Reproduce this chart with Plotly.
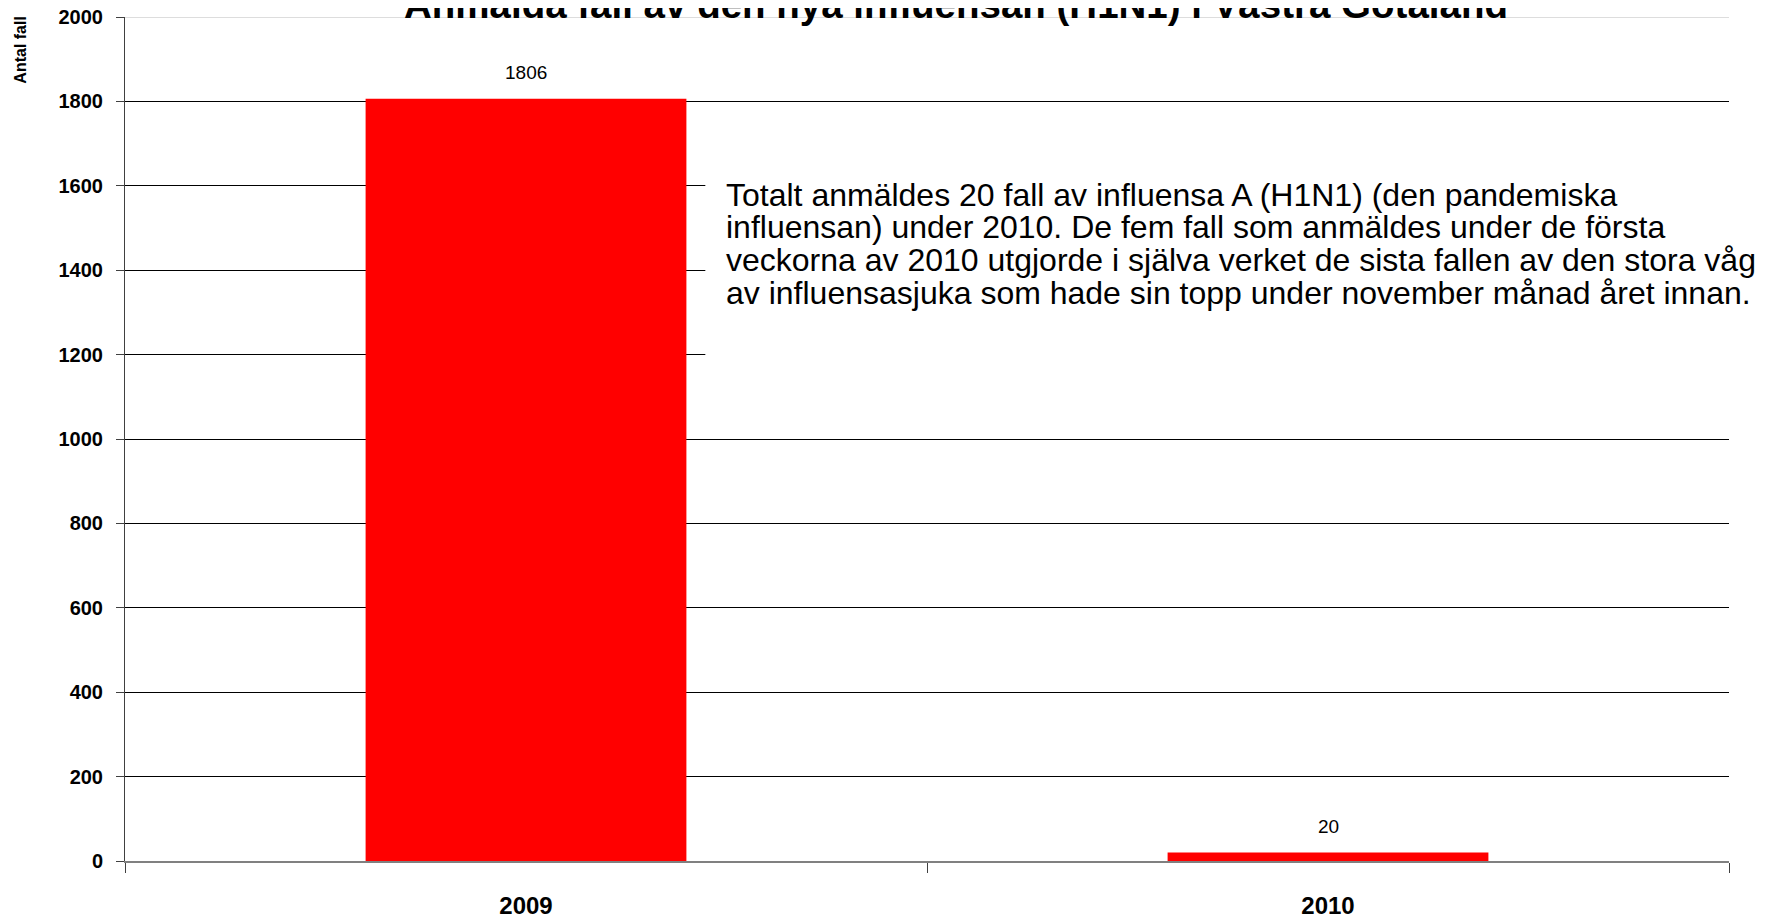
import plotly.graph_objects as go

# ---- data ----
categories = ["2009", "2010"]
cases = [1806, 20]
y_ticks = [0, 200, 400, 600, 800, 1000, 1200, 1400, 1600, 1800, 2000]
title_text = "Anmälda fall av den nya influensan (H1N1) i Västra Götaland"
y_title = "Antal fall"
note_lines = [
    "Totalt anmäldes 20 fall av influensa A (H1N1) (den pandemiska",
    "influensan) under 2010. De fem fall som anmäldes under de första",
    "veckorna av 2010 utgjorde i själva verket de sista fallen av den stora våg",
    "av influensasjuka som hade sin topp under november månad året innan.",
]

FONT = "Arial, Liberation Sans, sans-serif"

fig = go.Figure()
fig.add_trace(go.Bar(
    x=categories, y=cases, width=0.4,
    marker=dict(color="#FF0000", line=dict(width=0)),
    hoverinfo="x+y", showlegend=False,
))

# data labels (category index used as x position)
for i, v in enumerate(cases):
    fig.add_annotation(x=i, y=v, xref="x", yref="y", text=str(v), showarrow=False,
                       yanchor="bottom", yshift=14,
                       font=dict(family=FONT, size=19, color="black"))

# title
fig.add_annotation(xref="paper", yref="paper", x=0.518, y=1.015, xanchor="center",
                   yanchor="middle", text=title_text, showarrow=False,
                   font=dict(family=FONT, size=38.5, color="black", weight="bold"))

# y axis title
fig.add_annotation(xref="paper", yref="paper", x=-0.065, y=0.961, xanchor="center",
                   yanchor="middle", text=y_title, textangle=-90,
                   showarrow=False, font=dict(family=FONT, size=16, color="black", weight="bold"))

# white box behind the note (hides the gridlines there)
fig.add_shape(type="rect", xref="paper", yref="paper", x0=0.3618, x1=1.03,
              y0=0.575, y1=0.815, fillcolor="white", line=dict(width=0), layer="above")

# note, one annotation per line
line_centers_px = [195, 227.5, 260, 292.5]
plot_top, plot_bottom = 17, 861
for txt, yc in zip(note_lines, line_centers_px):
    fig.add_annotation(xref="paper", yref="paper", x=0.3736,
                       y=(plot_bottom - yc) / (plot_bottom - plot_top),
                       xanchor="left", yanchor="middle", align="left", text=txt,
                       showarrow=False, font=dict(family=FONT, size=32, color="black"))

# top border light gray
fig.add_shape(type="line", xref="paper", yref="y", x0=0, x1=1, y0=y_ticks[-1], y1=y_ticks[-1],
              line=dict(color="#dddddd", width=2), layer="above")

fig.update_layout(
    width=1774, height=919,
    margin=dict(l=116.5, r=53, t=9, b=66, autoexpand=False),
    paper_bgcolor="white", plot_bgcolor="white",
    font=dict(family=FONT, color="black"),
)
fig.update_xaxes(
    type="category", range=[-0.5, 1.5], automargin=False,
    showline=True, linecolor="#808080", linewidth=2,
    ticks="outside", tickson="boundaries", ticklen=10, tickcolor="#404040",
    showgrid=False, ticklabelstandoff=22, tickangle=0,
    tickfont=dict(family=FONT, size=24, color="black", weight="bold"),
)
fig.update_yaxes(
    range=[0, 2000], tickvals=y_ticks, automargin=False,
    showline=True, linecolor="#404040", linewidth=1,
    ticks="outside", ticklen=8, tickcolor="#404040",
    showgrid=True, gridcolor="black", gridwidth=1, zeroline=False,
    ticklabelstandoff=9, ticklabeloverflow="allow",
    tickfont=dict(family=FONT, size=20, color="black", weight="bold"),
)

fig.write_html("out.html")
